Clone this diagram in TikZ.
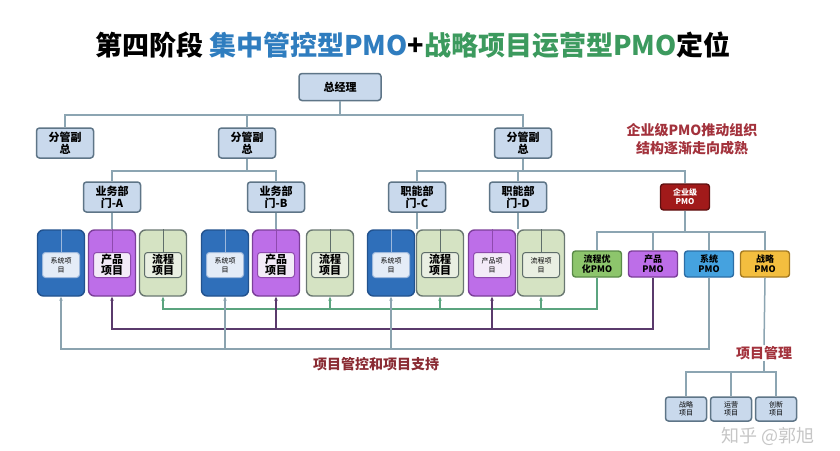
\documentclass[tikz,border=0pt]{standalone}
\usepackage{fontspec}
\setmainfont{Noto Sans CJK SC}
\usepackage{tikz}
\usetikzlibrary{arrows.meta, positioning, calc}

\definecolor{leadfill}{HTML}{C9D9EC}
\definecolor{leadline}{HTML}{5E7587}
\definecolor{treeline}{HTML}{8CA5B2}
\definecolor{sysfill}{HTML}{2F6FBA}
\definecolor{sysline}{HTML}{22528E}
\definecolor{sysin}{HTML}{E4ECF7}
\definecolor{sysrule}{HTML}{9DB8DC}
\definecolor{prodfill}{HTML}{BD6EE8}
\definecolor{prodline}{HTML}{7C3F99}
\definecolor{prodin}{HTML}{F3EBF8}
\definecolor{prodrule}{HTML}{8E4AAE}
\definecolor{flowfill}{HTML}{D5E3C3}
\definecolor{flowline}{HTML}{6A7872}
\definecolor{flowin}{HTML}{E9EFE2}
\definecolor{flowrule}{HTML}{5F6E6A}
\definecolor{optfill}{HTML}{8DC56C}
\definecolor{optline}{HTML}{5A8A48}
\definecolor{pmosysfill}{HTML}{45A2DF}
\definecolor{pmosysline}{HTML}{2C6EA6}
\definecolor{stratfill}{HTML}{F3BE3F}
\definecolor{stratline}{HTML}{A57B22}
\definecolor{entfill}{HTML}{A11A1A}
\definecolor{entline}{HTML}{5E1010}
\definecolor{titleblue}{HTML}{2F7DBF}
\definecolor{titlegreen}{HTML}{3C9A5E}
\definecolor{notered}{HTML}{A3323C}
\definecolor{busgreen}{HTML}{5BA47F}
\definecolor{buspurple}{HTML}{5A3A6C}
\definecolor{busgray}{HTML}{8BA3AF}

\newcommand{\bigtx}{\bfseries\fontsize{11}{11.5}\selectfont}
\newcommand{\smalltx}{\fontsize{7}{9}\selectfont}

\begin{document}
\begin{tikzpicture}[x=1pt, y=-1pt,
    lead/.style={draw=leadline, fill=leadfill, line width=1.5pt, rounded corners=3pt, align=center,
                 inner sep=0pt, minimum width=57pt, minimum height=30pt, font=\bfseries\fontsize{11}{12}\selectfont},
    pmo/.style={draw=#1line, fill=#1fill, line width=1.4pt, rounded corners=3pt, align=center,
                inner sep=0pt, minimum width=49pt, minimum height=26pt, font=\bfseries\fontsize{9}{10}\selectfont},
    projbox/.style={draw=#1line, fill=#1fill, line width=1.4pt, rounded corners=6pt,
                    inner sep=0pt, minimum width=47pt, minimum height=66pt},
    projin/.style={draw=#1rule, fill=#1in, line width=1pt, rounded corners=3pt, align=center,
                   inner sep=0pt, minimum width=37pt, minimum height=25pt},
    projrule/.style={draw=#1rule, line width=1pt},
    tree/.style={draw=treeline, line width=1.5pt},
    bus/.style={draw=#1, line width=1.5pt},
    tip/.style={-{Stealth[length=4pt, width=3.5pt]}},
    note/.style={text=notered, font=\bfseries\fontsize{14}{18}\selectfont, align=center}]

    % canvas
    \useasboundingbox (0,0) rectangle (840,450);
    \fill[white] (0,0) rectangle (840,450);

    % title
    \node[font=\bfseries\fontsize{27}{30}\selectfont] (title) at (413,45)
        {第四阶段 {\color{titleblue}集中管控型PMO}+{\color{titlegreen}战略项目运营型PMO}定位};

    % management tree
    \node[lead, minimum width=82pt, minimum height=27pt] (ceo) at (340,87) {总经理};
    \node[lead] (vp1) at (65,143) {分管副\\总};
    \node[lead] (vp2) at (247,143) {分管副\\总};
    \node[lead] (vp3) at (523,143) {分管副\\总};
    \coordinate (ceobar) at (340,115);
    \draw[tree] (ceo.south) -- (ceobar);
    \draw[tree] (vp1.north) |- (vp3.north |- ceobar) -- (vp3.north);
    \draw[tree] (vp2.north) -- (vp2.north |- ceobar);

    % departments
    \node[lead] (deptA) at (112,197) {业务部\\门-A};
    \node[lead] (deptB) at (276,197) {业务部\\门-B};
    \node[lead] (deptC) at (417,197) {职能部\\门-C};
    \node[lead] (deptD) at (518,197) {职能部\\门-D};
    \node[pmo=ent, text=white, font=\bfseries\fontsize{8}{9}\selectfont] (ent) at (685,197) {企业级\\PMO};
    \coordinate (vp2bar) at (247,171);
    \coordinate (vp3bar) at (523,171);
    \draw[tree] (vp2.south) -- (vp2bar);
    \draw[tree] (deptA.north) |- (deptB.north |- vp2bar) -- (deptB.north);
    \draw[tree] (vp3.south) -- (vp3bar);
    \draw[tree] (deptC.north) |- (ent.north |- vp3bar) -- (ent.north);
    \draw[tree] (deptD.north) -- (deptD.north |- vp3bar);

    \node[note] (goal) at (692,139) {企业级PMO推动组织\\结构逐渐走向成熟};

    % project boxes
    \foreach \nm/\cx/\kd/\sz/\tx in {
        sysA/61/sys/\smalltx/{系统项\\目},
        prodA/112/prod/\bigtx/{产品\\项目},
        flowA/163/flow/\bigtx/{流程\\项目},
        sysB/225/sys/\smalltx/{系统项\\目},
        prodB/276/prod/\bigtx/{产品\\项目},
        flowB/330/flow/\bigtx/{流程\\项目},
        sysC/391/sys/\smalltx/{系统项\\目},
        flowC/440/flow/\bigtx/{流程\\项目},
        prodD/492/prod/\smalltx/{产品项\\目},
        flowD/541/flow/\smalltx/{流程项\\目}} {
        \node[projbox=\kd] (\nm) at (\cx,263) {};
        \node[projin=\kd, font=\sz] (\nm-in) at (\cx,265) {\tx};
        \draw[projrule=\kd] (\nm.north) -- (\nm-in.north);
    }
    \draw[tree] (deptA.south) -- (prodA.north);
    \draw[tree] (deptB.south) -- (prodB.north);
    \draw[tree] (deptC.south) -- (deptC.south |- sysC.north);
    \draw[tree] (deptD.south) -- (deptD.south |- prodD.north);

    % PMO row
    \node[pmo=opt] (optP) at (597,264) {流程优\\化PMO};
    \node[pmo=prod] (prodP) at (653,264) {产品\\PMO};
    \node[pmo=pmosys] (sysP) at (709,264) {系统\\PMO};
    \node[pmo=strat] (stratP) at (765,264) {战略\\PMO};
    \coordinate (entbar) at (685,232);
    \draw[tree] (ent.south) -- (entbar);
    \draw[tree] (optP.north) |- (stratP.north |- entbar) -- (stratP.north);
    \draw[tree] (prodP.north) -- (prodP.north |- entbar);
    \draw[tree] (sysP.north) -- (sysP.north |- entbar);

    % support buses
    \coordinate (gbus) at (0,309);
    \coordinate (pbus) at (0,329);
    \coordinate (sbus) at (0,349);
    \draw[bus=busgreen, tip] (optP.south) |- (flowA.south |- gbus) -- (flowA.south);
    \foreach \b in {flowB, flowC, flowD}
        \draw[bus=busgreen, tip] (\b.south |- gbus) -- (\b.south);
    \draw[bus=buspurple, tip] (prodP.south) |- (prodA.south |- pbus) -- (prodA.south);
    \foreach \b in {prodB, prodD}
        \draw[bus=buspurple, tip] (\b.south |- pbus) -- (\b.south);
    \draw[bus=busgray, tip] (sysP.south) |- (sysA.south |- sbus) -- (sysA.south);
    \foreach \b in {sysB, sysC}
        \draw[bus=busgray, tip] (\b.south |- sbus) -- (\b.south);
    \node[note, text=notered!85!black] (support) at (376,364) {项目管控和项目支持};

    % project management
    \node[note, inner sep=1pt] (pm) at (764,353) {项目管理};
    \draw[tree] (stratP.south) -- (pm.north);
    \coordinate (pmbar) at (764,372);
    \draw[tree] (pm.south) -- (pmbar);
    \node[lead, minimum width=41pt, minimum height=24pt, font=\fontsize{7}{8}\selectfont] (sub1) at (686,409) {战略\\项目};
    \node[lead, minimum width=41pt, minimum height=24pt, font=\fontsize{7}{8}\selectfont] (sub2) at (731,409) {运营\\项目};
    \node[lead, minimum width=41pt, minimum height=24pt, font=\fontsize{7}{8}\selectfont] (sub3) at (776,409) {创新\\项目};
    \draw[tree] (sub1.north) |- (sub3.north |- pmbar) -- (sub3.north);
    \draw[tree] (sub2.north) -- (sub2.north |- pmbar);

    % watermark
    \node[text=gray!45, font=\fontsize{18}{20}\selectfont] (mark) at (768,436) {知乎 @郭旭};

\end{tikzpicture}
\end{document}
